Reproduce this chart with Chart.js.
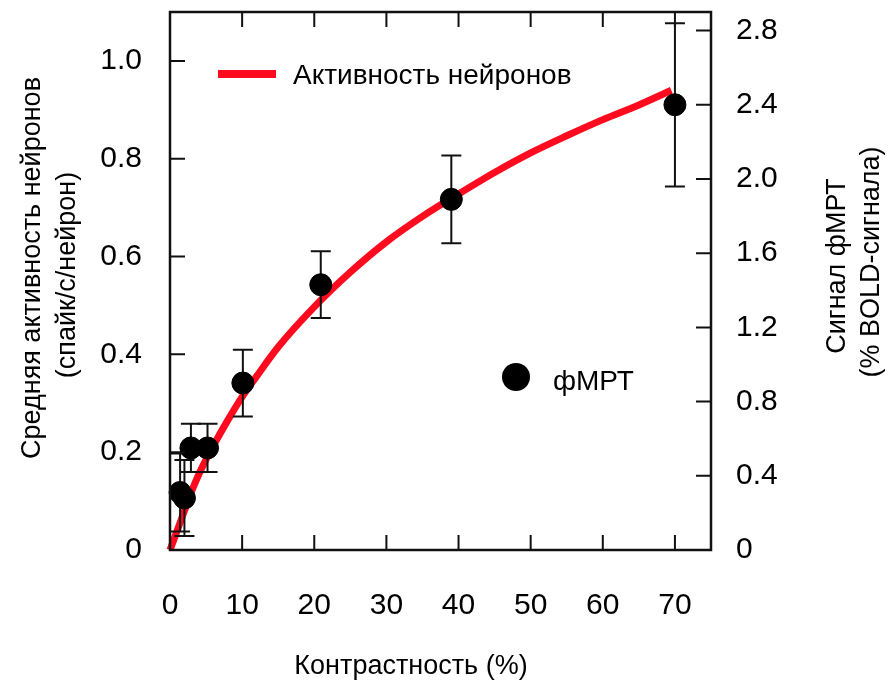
<!DOCTYPE html>
<html>
<head>
<meta charset="utf-8">
<script src="https://cdn.jsdelivr.net/npm/chart.js@4"></script>
<style>
html, body { margin: 0; padding: 0; background: #fff; }
</style>
</head>
<body>
<canvas id="grafico" width="895" height="686"></canvas>
<script>
// кривая: активность нейронов (левая ось)
const contrasteCurva = [0, 1, 2, 3, 4, 5, 6, 8, 10, 12, 15, 20, 25, 30, 35, 40, 45, 50, 55, 60, 65, 69.5];
const actividadCurva = [0, 0.04, 0.08, 0.12, 0.155, 0.185, 0.213, 0.265, 0.313, 0.355, 0.415, 0.497, 0.568, 0.63, 0.682, 0.728, 0.772, 0.812, 0.847, 0.88, 0.91, 0.94];
// точки фМРТ (правая ось)
const contrasteFmri = [1.4, 2.0, 2.9, 5.2, 10.1, 20.9, 39.0, 70.0];
const senalFmri = [0.31, 0.28, 0.55, 0.55, 0.90, 1.43, 1.89, 2.40];
const errorFmri = [0.21, 0.205, 0.13, 0.13, 0.18, 0.18, 0.236, 0.44];

const ticksX = [0, 10, 20, 30, 40, 50, 60, 70];
const ticksIzq = [0, 0.2, 0.4, 0.6, 0.8, 1.0];
const ticksDer = [0, 0.4, 0.8, 1.2, 1.6, 2.0, 2.4, 2.8];

const tituloX = "Контрастность (%)";
const tituloIzq = ["Средняя активность нейронов", "(спайк/с/нейрон)"];
const tituloDer = ["Сигнал фМРТ", "(% BOLD-сигнала)"];
const leyendaCurva = "Активность нейронов";
const leyendaFmri = "фМРТ";

const fuente = '"Liberation Sans", Arial, Helvetica, sans-serif';
const rojo = "#ff0a1e";

const formato = v => v === 0 ? "0" : v.toFixed(1);
const fijarTicks = lista => scale => { scale.ticks = lista.map(v => ({ value: v })); };

const marco = {
    id: "marco",
    beforeDatasetDraw(chart, args) {
        if (args.index !== 0) return;
        const ctx = chart.ctx;
        const sx = chart.scales.x, sy = chart.scales.y2;
        ctx.save();
        ctx.strokeStyle = "#111";
        ctx.lineWidth = 2;
        contrasteFmri.forEach((c, i) => {
            const px = sx.getPixelForValue(c);
            const arriba = sy.getPixelForValue(senalFmri[i] + errorFmri[i]);
            const abajo = sy.getPixelForValue(senalFmri[i] - errorFmri[i]);
            ctx.beginPath();
            ctx.moveTo(px, arriba); ctx.lineTo(px, abajo);
            ctx.moveTo(px - 10, arriba); ctx.lineTo(px + 10, arriba);
            ctx.moveTo(px - 10, abajo); ctx.lineTo(px + 10, abajo);
            ctx.stroke();
        });
        ctx.restore();
    },
    afterDraw(chart) {
        const ctx = chart.ctx;
        const a = chart.chartArea;
        const sx = chart.scales.x, sy = chart.scales.y, sy2 = chart.scales.y2;
        ctx.save();
        ctx.strokeStyle = "#111";
        ctx.lineWidth = 2;
        ctx.beginPath();
        ticksX.forEach(v => {
            const p = sx.getPixelForValue(v);
            ctx.moveTo(p, a.bottom); ctx.lineTo(p, a.bottom - 15);
            ctx.moveTo(p, a.top); ctx.lineTo(p, a.top + 15);
        });
        ticksIzq.forEach(v => {
            const p = sy.getPixelForValue(v);
            ctx.moveTo(a.left, p); ctx.lineTo(a.left + 15, p);
        });
        ticksDer.forEach(v => {
            const p = sy2.getPixelForValue(v);
            ctx.moveTo(a.right, p); ctx.lineTo(a.right - 15, p);
        });
        ctx.stroke();
        ctx.lineWidth = 2.5;
        ctx.strokeRect(a.left, a.top, a.right - a.left, a.bottom - a.top);

        // leyendas
        ctx.strokeStyle = rojo;
        ctx.lineWidth = 8;
        ctx.beginPath();
        ctx.moveTo(218, 74); ctx.lineTo(276, 74);
        ctx.stroke();
        ctx.fillStyle = "#000";
        ctx.font = "28px " + fuente;
        ctx.textBaseline = "middle";
        ctx.textAlign = "left";
        ctx.fillText(leyendaCurva, 293, 76);
        ctx.beginPath();
        ctx.arc(516, 377, 14, 0, Math.PI * 2);
        ctx.fill();
        ctx.fillText(leyendaFmri, 553, 382);

        // títulos
        ctx.font = "27px " + fuente;
        ctx.textAlign = "center";
        ctx.fillText(tituloX, 411, 667);
        [[33, 268, tituloIzq[0]], [68, 275, tituloIzq[1]], [838, 266, tituloDer[0]], [872, 262, tituloDer[1]]].forEach(([x, y, t]) => {
            ctx.save();
            ctx.translate(x, y);
            ctx.rotate(-Math.PI / 2);
            ctx.fillText(t, 0, 0);
            ctx.restore();
        });
        ctx.restore();
    }
};

new Chart(document.getElementById("grafico").getContext("2d"), {
    type: "scatter",
    data: {
        datasets: [{
            label: leyendaFmri,
            data: contrasteFmri.map((c, i) => ({ x: c, y: senalFmri[i] })),
            yAxisID: "y2",
            backgroundColor: "#000",
            borderColor: "#000",
            pointRadius: 11,
            order: 0,
            clip: false
        }, {
            label: leyendaCurva,
            data: contrasteCurva.map((c, i) => ({ x: c, y: actividadCurva[i] })),
            yAxisID: "y",
            showLine: true,
            borderColor: rojo,
            borderWidth: 7,
            pointRadius: 0,
            cubicInterpolationMode: "monotone",
            order: 1,
            clip: false
        }]
    },
    options: {
        responsive: false,
        animation: false,
        devicePixelRatio: 1,
        layout: { padding: { top: 12, left: 0, right: 0, bottom: 0 } },
        plugins: { legend: { display: false }, tooltip: { enabled: false } },
        scales: {
            x: {
                type: "linear", min: 0, max: 75,
                afterBuildTicks: fijarTicks(ticksX),
                afterFit: s => { s.height = 136; s.paddingLeft = 0; s.paddingRight = 0; },
                grid: { display: false }, border: { display: false },
                ticks: { color: "#000", font: { size: 30, family: fuente }, padding: 30, maxRotation: 0 }
            },
            y: {
                position: "left", min: 0, max: 1.1,
                afterBuildTicks: fijarTicks(ticksIzq),
                afterFit: s => { s.width = 170; s.paddingTop = 0; s.paddingBottom = 0; },
                grid: { display: false }, border: { display: false },
                ticks: { color: "#000", font: { size: 30, family: fuente }, padding: 20, callback: formato }
            },
            y2: {
                position: "right", min: 0, max: 2.9,
                afterBuildTicks: fijarTicks(ticksDer),
                afterFit: s => { s.width = 184; s.paddingTop = 0; s.paddingBottom = 0; },
                grid: { display: false }, border: { display: false },
                ticks: { color: "#000", font: { size: 30, family: fuente }, padding: 17, callback: formato }
            }
        }
    },
    plugins: [marco]
});
</script>
</body>
</html>
